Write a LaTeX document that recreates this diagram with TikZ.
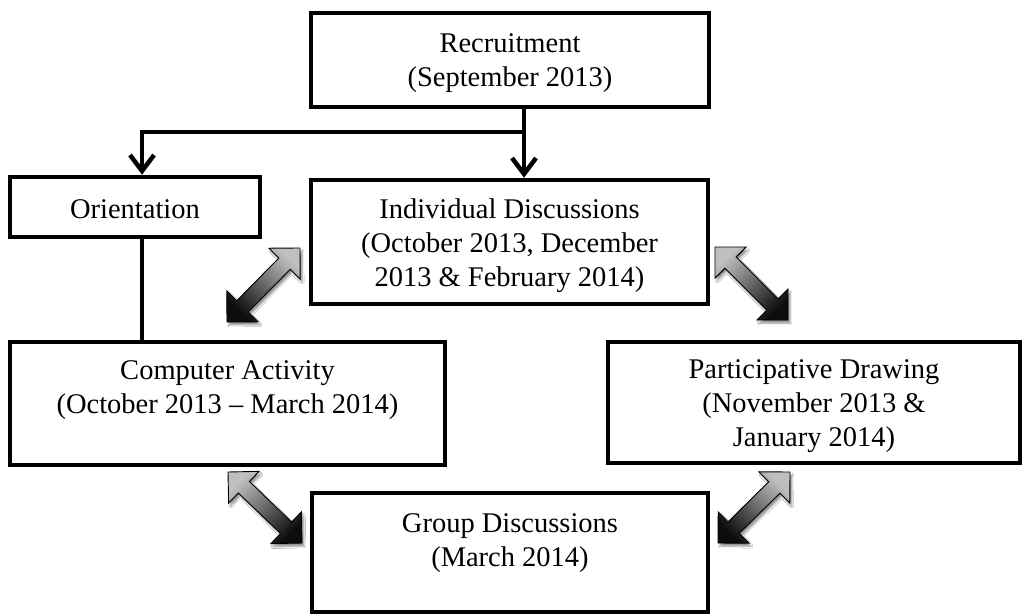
\documentclass[tikz,border=0pt]{standalone}
\usepackage{fontspec}
\setmainfont{Liberation Serif}
\usetikzlibrary{arrows.meta,calc,shadows.blur}
\newcommand\bxt[4]{\parbox[c][#2][t]{#1}{\centering\rule{0pt}{#3}#4}}
\newcommand\dblarrow[4]{%
  \coordinate (#1-a) at #2;
  \coordinate (#1-b) at #3;
  \coordinate (#1-p) at ($(#1-a)!22pt!(#1-b)$);
  \coordinate (#1-q) at ($(#1-b)!22pt!(#1-a)$);
  \path[fatarrow, shading angle=#4] (#1-a)
    -- ($(#1-p)!22pt!90:(#1-b)$) -- ($(#1-p)!8pt!90:(#1-b)$)
    -- ($(#1-q)!8pt!-90:(#1-a)$) -- ($(#1-q)!22pt!-90:(#1-a)$)
    -- (#1-b)
    -- ($(#1-q)!22pt!90:(#1-a)$) -- ($(#1-q)!8pt!90:(#1-a)$)
    -- ($(#1-p)!8pt!-90:(#1-b)$) -- ($(#1-p)!22pt!-90:(#1-b)$)
    -- cycle;
}
\begin{document}
\begin{tikzpicture}[x=1pt,y=-1pt,
  box/.style={draw, line width=4.5pt, inner sep=0pt, font=\fontsize{28.5}{34}\selectfont},
  conn/.style={line width=4.5pt},
  tip/.style={-{Straight Barb[length=16pt,width=24pt]}},
  fatarrow/.style={draw=black, line width=0.9pt, line join=miter,
    top color=black!25, bottom color=black!95,
    blur shadow={shadow xshift=2pt, shadow yshift=-3pt, shadow blur steps=6, shadow opacity=45}}]
\fill[white] (0,0) rectangle (1030,615);
\useasboundingbox (0,0) rectangle (1030,615);

\node[box] (rec)  at (510,60)    {\bxt{398pt}{94pt}{40pt}{Recruitment\\(September 2013)}};
\node[box] (ori)  at (135,207)   {\bxt{250pt}{60pt}{41pt}{Orientation}};
\node[box] (ind)  at (509.5,242) {\bxt{397pt}{124pt}{38pt}{Individual Discussions\\(October 2013, December\\2013 \& February 2014)}};
\node[box] (comp) at (227.5,403.5) {\bxt{435pt}{123pt}{37pt}{Computer Activity\\(October 2013 -- March 2014)}};
\node[box] (part) at (814,402.5) {\bxt{412pt}{121pt}{36pt}{Participative Drawing\\(November 2013 \&\\January 2014)}};
\node[box] (grp)  at (510,552.5) {\bxt{396pt}{119pt}{39pt}{Group Discussions\\(March 2014)}};

\coordinate (j) at (524,132);
\coordinate (k) at (142,132);
\draw[conn, tip] (rec.south -| j) -- (j) -- (k) -- (k |- ori.north);
\draw[conn, tip] (j) -- (j |- ind.north);
\draw[conn] (ori.south -| k) -- (comp.north -| k);

\dblarrow{d1}{(227,322)}{(300,248)}{-45}
\dblarrow{d2}{(715,247)}{(788,320)}{45}
\dblarrow{d3}{(228,472)}{(302,543)}{45}
\dblarrow{d4}{(790,472)}{(718,543)}{-45}
\end{tikzpicture}
\end{document}
